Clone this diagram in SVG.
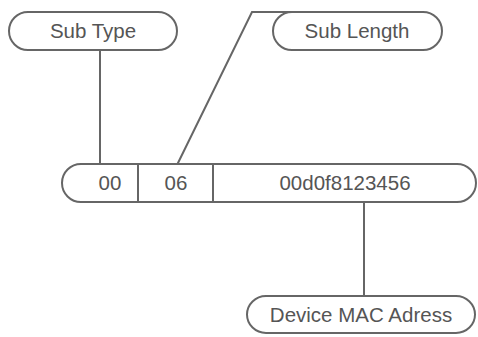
<svg xmlns="http://www.w3.org/2000/svg" width="478" height="337" viewBox="0 0 478 337">
<style>
.b{fill:#fff;stroke:#666;stroke-width:2}
.l{fill:none;stroke:#666;stroke-width:2}
text{font-family:"Liberation Sans",Arial,sans-serif;font-size:20.5px;fill:#555;text-anchor:middle}
</style>
<rect width="478" height="337" fill="#fff"/>
<g id="connectors">
<line class="l" x1="100" y1="50" x2="100" y2="165"/>
<polyline class="l" points="177,165 252,12 292,12"/>
<line class="l" x1="364" y1="202" x2="364" y2="297"/>
</g>
<g id="subtype">
<rect class="b" x="9" y="12" width="168" height="38" rx="19" ry="19"/>
<text x="93" y="38">Sub Type</text>
</g>
<g id="sublength">
<rect class="b" x="273" y="12" width="169" height="38" rx="19" ry="19"/>
<text x="357" y="38">Sub Length</text>
</g>
<g id="record">
<rect class="b" x="62" y="164" width="414" height="38" rx="19" ry="19"/>
<line class="l" x1="138" y1="164" x2="138" y2="202"/>
<line class="l" x1="213" y1="164" x2="213" y2="202"/>
<text x="110" y="190">00</text>
<text x="176" y="190">06</text>
<text x="345" y="190">00d0f8123456</text>
</g>
<g id="mac">
<rect class="b" x="247" y="296" width="228" height="37" rx="19" ry="18.5"/>
<text x="361" y="322">Device MAC Adress</text>
</g>
</svg>
